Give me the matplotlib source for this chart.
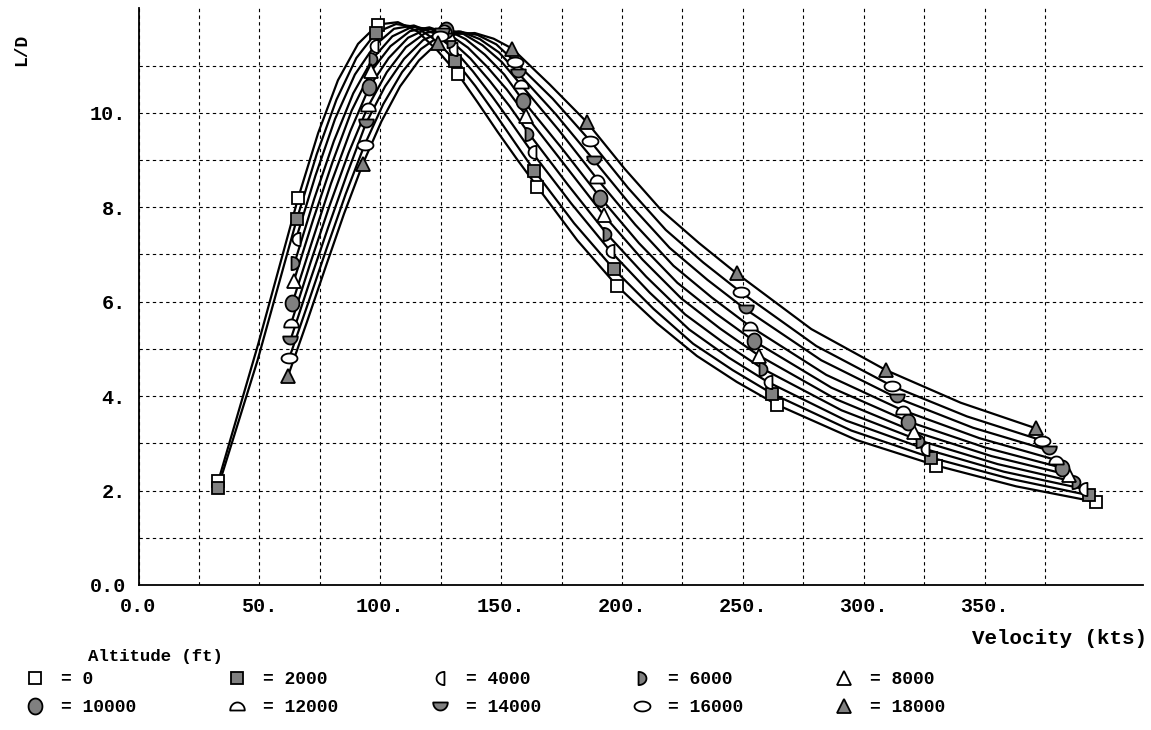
import numpy as np
import matplotlib
matplotlib.use("Agg")
import matplotlib.pyplot as plt
from matplotlib.path import Path
from matplotlib.font_manager import FontProperties

# ---------------- data ----------------
altitudes = [0, 2000, 4000, 6000, 8000, 10000, 12000, 14000, 16000, 18000]

vel_0 = [33.0, 49.5, 66.0, 74.3, 82.5, 90.8, 99.0, 107.3, 115.5, 123.8, 132.0, 140.3, 148.5,
         156.8, 165.0, 181.5, 198.0, 214.5, 231.0, 247.5, 264.0, 297.0, 330.0, 363.0, 396.0]
ld_0 = [2.20, 5.10, 8.19, 9.57, 10.69, 11.46, 11.87, 11.92, 11.72, 11.31, 10.83, 10.22, 9.60,
        9.00, 8.43, 7.30, 6.33, 5.54, 4.85, 4.30, 3.82, 3.07, 2.53, 2.09, 1.76]

vel_2000 = [32.8, 49.2, 65.5, 73.7, 81.9, 90.1, 98.3, 106.5, 114.7, 122.9, 131.1, 139.3, 147.5,
            155.7, 163.8, 180.2, 196.6, 213.0, 229.4, 245.8, 262.2, 294.9, 327.7, 360.5, 393.2]
ld_2000 = [2.05, 4.75, 7.75, 9.12, 10.28, 11.16, 11.70, 11.88, 11.82, 11.54, 11.10, 10.57, 9.98,
           9.37, 8.77, 7.66, 6.69, 5.85, 5.11, 4.55, 4.05, 3.27, 2.70, 2.25, 1.90]

vel_4000 = [65.1, 73.2, 81.3, 89.5, 97.6, 105.7, 113.9, 122.0, 130.2, 138.3, 146.4, 154.6, 162.7,
            179.0, 195.2, 211.5, 227.8, 244.0, 260.3, 292.8, 325.4, 357.9, 390.5]
ld_4000 = [7.32, 8.67, 9.87, 10.81, 11.42, 11.78, 11.85, 11.69, 11.36, 10.88, 10.34, 9.76, 9.17,
           8.08, 7.07, 6.19, 5.41, 4.82, 4.30, 3.48, 2.88, 2.40, 2.04]

vel_6000 = [64.6, 72.7, 80.8, 88.8, 96.9, 105.0, 113.1, 121.2, 129.2, 137.3, 145.4, 153.5, 161.5,
            177.7, 193.8, 210.0, 226.1, 242.3, 258.5, 290.8, 323.1, 355.4, 387.7]
ld_6000 = [6.83, 8.18, 9.40, 10.41, 11.15, 11.62, 11.82, 11.77, 11.53, 11.15, 10.67, 10.14, 9.56,
           8.47, 7.43, 6.53, 5.73, 5.12, 4.57, 3.70, 3.06, 2.56, 2.18]

vel_8000 = [64.2, 72.2, 80.2, 88.2, 96.2, 104.2, 112.3, 120.3, 128.3, 136.3, 144.3, 152.4, 160.4,
            176.4, 192.5, 208.5, 224.5, 240.6, 256.6, 288.7, 320.8, 352.8, 384.9]
ld_8000 = [6.43, 7.73, 8.95, 10.05, 10.88, 11.41, 11.73, 11.81, 11.67, 11.38, 10.97, 10.49, 9.94,
           8.89, 7.83, 6.89, 6.07, 5.43, 4.86, 3.93, 3.25, 2.73, 2.33]

vel_10000 = [63.7, 71.7, 79.6, 87.6, 95.5, 103.5, 111.5, 119.4, 127.4, 135.3, 143.3, 151.3, 159.2,
             175.1, 191.1, 207.0, 222.9, 238.8, 254.8, 286.6, 318.5, 350.3, 382.1]
ld_10000 = [5.98, 7.26, 8.50, 9.61, 10.55, 11.16, 11.59, 11.78, 11.76, 11.56, 11.23, 10.81, 10.25,
            9.25, 8.20, 7.24, 6.40, 5.75, 5.16, 4.18, 3.46, 2.91, 2.48]

vel_12000 = [63.2, 71.1, 79.0, 86.9, 94.8, 102.7, 110.6, 118.6, 126.5, 134.4, 142.3, 150.2, 158.1,
             173.9, 189.7, 205.5, 221.3, 237.1, 252.9, 284.5, 316.1, 347.8, 379.4]
ld_12000 = [5.55, 6.82, 8.03, 9.15, 10.12, 10.86, 11.39, 11.69, 11.77, 11.67, 11.43, 11.08, 10.60,
            9.63, 8.60, 7.63, 6.76, 6.09, 5.48, 4.45, 3.70, 3.11, 2.65]

vel_14000 = [62.8, 70.6, 78.5, 86.3, 94.1, 102.0, 109.8, 117.7, 125.5, 133.4, 141.2, 149.1, 156.9,
             172.6, 188.3, 204.0, 219.7, 235.4, 251.1, 282.4, 313.8, 345.2, 376.6]
ld_14000 = [5.18, 6.39, 7.58, 8.71, 9.78, 10.56, 11.14, 11.54, 11.72, 11.72, 11.56, 11.28, 10.85,
            9.97, 9.00, 8.02, 7.14, 6.46, 5.84, 4.76, 3.96, 3.33, 2.85]

vel_16000 = [62.3, 70.1, 77.9, 85.7, 93.5, 101.2, 109.0, 116.8, 124.6, 132.4, 140.2, 148.0, 155.8,
             171.3, 186.9, 202.5, 218.1, 233.6, 249.2, 280.4, 311.5, 342.7, 373.8]
ld_16000 = [4.80, 5.96, 7.14, 8.28, 9.32, 10.18, 10.86, 11.35, 11.63, 11.72, 11.65, 11.45, 11.08,
            10.30, 9.40, 8.41, 7.52, 6.83, 6.20, 5.06, 4.22, 3.57, 3.06]

vel_18000 = [61.8, 69.6, 77.3, 85.0, 92.8, 100.5, 108.2, 116.0, 123.7, 131.4, 139.1, 146.9, 154.6,
             170.1, 185.5, 201.0, 216.4, 231.9, 247.4, 278.3, 309.2, 340.1, 371.1]
ld_18000 = [4.42, 5.56, 6.72, 7.86, 8.92, 9.82, 10.56, 11.11, 11.48, 11.67, 11.69, 11.57, 11.36,
            10.60, 9.80, 8.82, 7.93, 7.24, 6.60, 5.42, 4.55, 3.86, 3.32]

# which points of each curve carry a symbol
marker_idx_low = [0, 2, 6, 10, 14, 16, 20, 22, 24]   # 0 ft and 2000 ft
marker_idx = [0, 4, 8, 12, 14, 18, 20, 22]            # other altitudes

x_tick_values = [0, 50, 100, 150, 200, 250, 300, 350]
x_tick_labels = ["0.0", "50.", "100.", "150.", "200.", "250.", "300.", "350."]
y_tick_values = [0, 2, 4, 6, 8, 10]
y_tick_labels = ["0.0", "2.", "4.", "6.", "8.", "10."]
x_grid_minor = [25, 75, 125, 175, 225, 275, 325, 375]
y_grid_minor = [1, 3, 5, 7, 9, 11]

legend_labels = ["= 0", "= 2000", "= 4000", "= 6000", "= 8000",
                 "= 10000", "= 12000", "= 14000", "= 16000", "= 18000"]

# ---------------- marker shapes ----------------
def arc_path(t0, t1, sx, sy, cx, cy):
    t = np.linspace(t0, t1, 40)
    v = np.column_stack([cx + sx * np.cos(t), cy + sy * np.sin(t)])
    v = np.vstack([v, v[:1]])
    codes = [Path.MOVETO] + [Path.LINETO] * (len(t) - 1) + [Path.CLOSEPOLY]
    return Path(v, codes)

left_half = arc_path(np.pi / 2, 3 * np.pi / 2, 1.2, 1.0, 0.6, 0.0)
right_half = arc_path(-np.pi / 2, np.pi / 2, 1.2, 1.0, -0.6, 0.0)
top_half = arc_path(0, np.pi, 1.0, 1.1, 0.0, -0.55)
bottom_half = arc_path(np.pi, 2 * np.pi, 1.0, 1.1, 0.0, 0.55)
wide_ellipse = arc_path(0, 2 * np.pi, 1.0, 0.62, 0.0, 0.0)
tall_ellipse = arc_path(0, 2 * np.pi, 0.87, 1.0, 0.0, 0.0)

GRAY = "#808080"
WHITE = "white"
styles = [
    dict(marker="s", mfc=WHITE, ms=8.5),
    dict(marker="s", mfc=GRAY, ms=8.5),
    dict(marker=left_half, mfc=WHITE, ms=9.5),
    dict(marker=right_half, mfc=GRAY, ms=9.5),
    dict(marker="^", mfc=WHITE, ms=9.5),
    dict(marker=tall_ellipse, mfc=GRAY, ms=11.5),
    dict(marker=top_half, mfc=WHITE, ms=10.5),
    dict(marker=bottom_half, mfc=GRAY, ms=10.5),
    dict(marker=wide_ellipse, mfc=WHITE, ms=11.5),
    dict(marker="^", mfc=GRAY, ms=9.5),
]

vels = [vel_0, vel_2000, vel_4000, vel_6000, vel_8000,
        vel_10000, vel_12000, vel_14000, vel_16000, vel_18000]
lds = [ld_0, ld_2000, ld_4000, ld_6000, ld_8000,
       ld_10000, ld_12000, ld_14000, ld_16000, ld_18000]

# ---------------- figure ----------------
W, H = 1151, 730
fig = plt.figure(figsize=(W / 100, H / 100), dpi=100)
ax = fig.add_axes([138.5 / W, 1 - 585 / H, (1143 - 138.5) / W, (585 - 8) / H])
ax.set_xlim(0, 415.5)
ax.set_ylim(0, 12.22)

mono_b = FontProperties(family="Liberation Mono", weight="bold", size=14.5)

ax.set_xticks(x_tick_values)
ax.set_xticklabels(x_tick_labels, fontproperties=mono_b)
ax.set_xticks(x_grid_minor, minor=True)
ax.set_yticks(y_tick_values)
ax.set_yticklabels(y_tick_labels, fontproperties=mono_b)
ax.set_yticks(y_grid_minor, minor=True)
ax.tick_params(which="both", length=0)
ax.tick_params(axis="x", pad=9)
ax.tick_params(axis="y", pad=9)
ax.grid(True, which="both", color="black", linestyle=(0, (3, 3)), linewidth=0.8)
ax.set_axisbelow(True)
for s in ["top", "right"]:
    ax.spines[s].set_visible(False)
for s in ["left", "bottom"]:
    ax.spines[s].set_linewidth(1.3)
    ax.spines[s].set_zorder(1)

handles = []
for i, (v, l) in enumerate(zip(vels, lds)):
    v = np.asarray(v)
    l = np.asarray(l)
    ax.plot(v, l, color="black", linewidth=1.6, zorder=3, clip_on=False)
    idx = marker_idx_low if i < 2 else marker_idx
    st = styles[i]
    h, = ax.plot(v[idx], l[idx], linestyle="none", marker=st["marker"],
                 markerfacecolor=st["mfc"], markeredgecolor="black",
                 markeredgewidth=1.3, markersize=st["ms"], zorder=5, clip_on=False)
    handles.append(h)

# axis titles
fig.text(22 / W, 1 - 50 / H, "L/D", rotation=90, ha="center", va="center",
         fontproperties=FontProperties(family="Liberation Mono", weight="bold", size=13))
fig.text(1147 / W, 1 - 638 / H, "Velocity (kts)", ha="right", va="center",
         fontproperties=FontProperties(family="Liberation Mono", weight="bold", size=15))

# legend
leg_font = FontProperties(family="Liberation Mono", weight="bold", size=13)
fig.text(88 / W, 1 - 657 / H, "Altitude (ft)", ha="left", va="center",
         fontproperties=FontProperties(family="Liberation Mono", weight="bold", size=12.5))
order = [0, 5, 1, 6, 2, 7, 3, 8, 4, 9]
leg = fig.legend([handles[i] for i in order], [legend_labels[i] for i in order],
                 ncol=5, loc="upper left", bbox_to_anchor=(26 / W, 1 - 671 / H),
                 frameon=False, borderpad=0, borderaxespad=0, handlelength=1.0,
                 handletextpad=0.94, columnspacing=5.1, labelspacing=0.62,
                 prop=leg_font)

fig.savefig("out.png", dpi=100)
